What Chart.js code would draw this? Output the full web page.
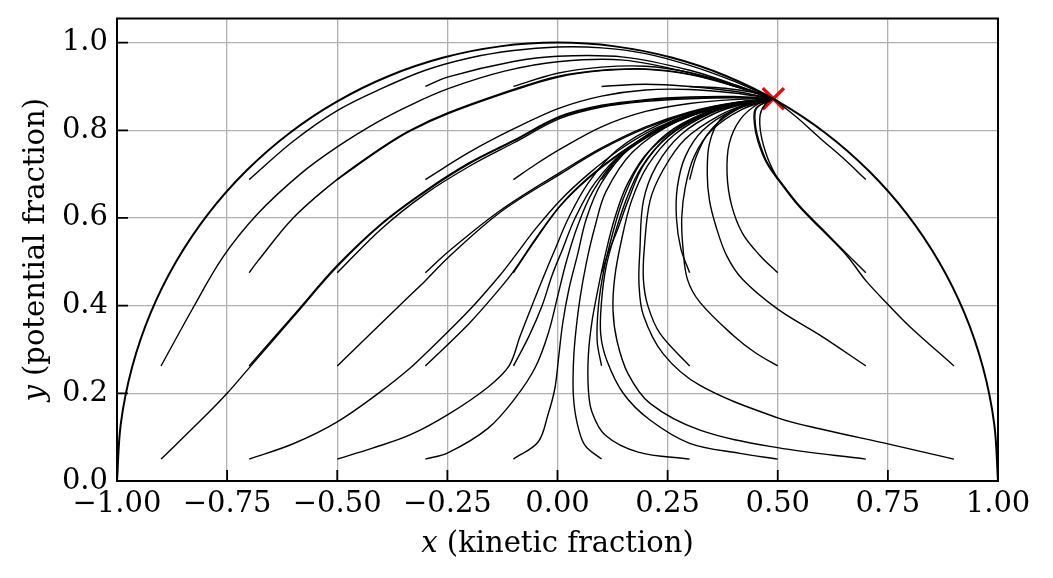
<!DOCTYPE html>
<html>
<head>
<meta charset="utf-8">
<script src="https://cdn.jsdelivr.net/npm/chart.js@4.4.1/dist/chart.umd.min.js"></script>
<style>
  html, body { margin: 0; background: #fff; }
  #wrap { width: 1053px; height: 578px; }
</style>
</head>
<body>
<div id="wrap"><canvas id="phase"></canvas></div>
<script>
// ---- axis ticks ----
const xTicks = [-1, -0.75, -0.5, -0.25, 0, 0.25, 0.5, 0.75, 1];
const yTicks = [0, 0.2, 0.4, 0.6, 0.8, 1.0];

// ---- attractor (red x) ----
const attractor = [[0.49, 0.872]];

// ---- boundary x^2 + y^2 = 1 ----
const circle = [
  [-1, 0], [-0.9914, 0.1305], [-0.9659, 0.2588], [-0.9239, 0.3827], [-0.866, 0.5],
  [-0.7934, 0.6088], [-0.7071, 0.7071], [-0.6088, 0.7934], [-0.5, 0.866], [-0.3827, 0.9239],
  [-0.2588, 0.9659], [-0.1305, 0.9914], [0, 1], [0.1305, 0.9914], [0.2588, 0.9659],
  [0.3827, 0.9239], [0.5, 0.866], [0.6088, 0.7934], [0.7071, 0.7071], [0.7934, 0.6088],
  [0.866, 0.5], [0.9239, 0.3827], [0.9659, 0.2588], [0.9914, 0.1305], [1, 0]
];

// ---- trajectories, named by start point: m/p = sign, digit = |x0|*10, a..e = y0 row ----
// row a: y0 = 0.05
const m9a = [[-0.9,0.05],[-0.8,0.148],[-0.75,0.2],[-0.7,0.258],[-0.6,0.374],[-0.5,0.489],[-0.4,0.585],[-0.3,0.66],[-0.2,0.724],[-0.1,0.775],[0.006,0.83],[0.1,0.855],[0.2,0.868],[0.3,0.874],[0.4,0.875],[0.49,0.872]];
const m7a = [[-0.7,0.05],[-0.6,0.085],[-0.5,0.135],[-0.4,0.205],[-0.335,0.257],[-0.3,0.29],[-0.2,0.39],[-0.13,0.47],[-0.096,0.514],[-0.05,0.575],[0.006,0.64],[0.07,0.7],[0.14,0.755],[0.22,0.803],[0.31,0.84],[0.4,0.862],[0.49,0.872]];
const m5a = [[-0.5,0.05],[-0.42,0.075],[-0.335,0.105],[-0.248,0.152],[-0.158,0.214],[-0.11,0.2625],[-0.085,0.33],[-0.058,0.4],[-0.03,0.47],[-0.005,0.53],[0.025,0.6],[0.07,0.68],[0.135,0.755],[0.235,0.815],[0.35,0.853],[0.49,0.872]];
const m3a = [[-0.3,0.05],[-0.249,0.064],[-0.158,0.12],[-0.096,0.189],[-0.05,0.26],[-0.02,0.34],[0,0.42],[0.02,0.5],[0.045,0.58],[0.08,0.66],[0.14,0.74],[0.23,0.805],[0.34,0.849],[0.49,0.872]];
const m1a = [[-0.1,0.05],[-0.044,0.089],[-0.022,0.15],[-0.006,0.211],[0.003,0.286],[0.012,0.361],[0.026,0.438],[0.045,0.514],[0.066,0.6],[0.1,0.68],[0.165,0.76],[0.26,0.82],[0.37,0.855],[0.49,0.872]];
const p1a = [[0.1,0.05],[0.062,0.082],[0.044,0.135],[0.036,0.195],[0.036,0.264],[0.04,0.325],[0.051,0.416],[0.066,0.5],[0.085,0.58],[0.11,0.66],[0.17,0.75],[0.27,0.82],[0.38,0.857],[0.49,0.872]];
const p3a = [[0.3,0.05],[0.183,0.066],[0.108,0.105],[0.078,0.158],[0.07,0.21],[0.07,0.286],[0.078,0.362],[0.092,0.438],[0.108,0.514],[0.13,0.6],[0.16,0.68],[0.21,0.755],[0.3,0.822],[0.4,0.857],[0.49,0.872]];
const p5a = [[0.5,0.05],[0.414,0.063],[0.3,0.086],[0.21,0.139],[0.15,0.199],[0.112,0.275],[0.098,0.336],[0.1,0.41],[0.11,0.487],[0.13,0.563],[0.155,0.639],[0.19,0.715],[0.25,0.785],[0.34,0.838],[0.43,0.863],[0.49,0.872]];
const p7a = [[0.7,0.05],[0.5,0.076],[0.3235,0.116],[0.21,0.177],[0.16,0.245],[0.135,0.32],[0.126,0.39],[0.13,0.465],[0.145,0.548],[0.168,0.639],[0.205,0.72],[0.265,0.79],[0.35,0.84],[0.43,0.864],[0.49,0.872]];
const p9a = [[0.9,0.05],[0.7525,0.084],[0.6,0.118],[0.5,0.144],[0.3235,0.218],[0.24,0.29],[0.195,0.378],[0.185,0.449],[0.187,0.525],[0.195,0.639],[0.225,0.72],[0.28,0.79],[0.36,0.84],[0.44,0.864],[0.49,0.872]];
// row b: y0 = 0.2625
const m9b = [[-0.9,0.2625],[-0.83,0.39],[-0.76,0.51],[-0.68,0.61],[-0.584,0.7],[-0.5,0.762],[-0.41,0.818],[-0.335,0.857],[-0.248,0.895],[-0.12,0.935],[0.006,0.957],[0.15,0.96],[0.3,0.931],[0.42,0.895],[0.49,0.872]];
const m7b = [[-0.7,0.2625],[-0.6,0.377],[-0.5,0.492],[-0.4,0.587],[-0.3,0.662],[-0.2,0.726],[-0.1,0.777],[0.006,0.832],[0.1,0.857],[0.2,0.87],[0.3,0.876],[0.4,0.877],[0.49,0.872]];
const m5b = [[-0.5,0.2625],[-0.41,0.35],[-0.335,0.423],[-0.3,0.457],[-0.248,0.51],[-0.13,0.613],[0.006,0.7],[0.1,0.757],[0.2,0.805],[0.3,0.84],[0.4,0.862],[0.49,0.872]];
const m3b = [[-0.3,0.2625],[-0.2,0.36],[-0.13,0.44],[-0.1,0.478],[-0.05,0.552],[0.006,0.628],[0.07,0.692],[0.14,0.747],[0.22,0.797],[0.31,0.836],[0.4,0.86],[0.49,0.872]];
const m1b = [[-0.1,0.2625],[-0.065,0.33],[-0.035,0.4],[-0.012,0.47],[0.012,0.53],[0.04,0.6],[0.085,0.68],[0.155,0.755],[0.255,0.815],[0.37,0.853],[0.49,0.872]];
const p1b = [[0.1,0.2625],[0.09,0.32],[0.093,0.4],[0.105,0.48],[0.124,0.56],[0.148,0.64],[0.185,0.72],[0.245,0.79],[0.335,0.84],[0.425,0.864],[0.49,0.872]];
const p3b = [[0.3,0.2625],[0.233,0.336],[0.205,0.4],[0.195,0.46],[0.197,0.53],[0.21,0.639],[0.24,0.71],[0.29,0.78],[0.37,0.835],[0.44,0.863],[0.49,0.872]];
const p5b = [[0.5,0.2625],[0.45,0.292],[0.399,0.332],[0.3235,0.4075],[0.295,0.46],[0.285,0.53],[0.282,0.6],[0.29,0.67],[0.31,0.74],[0.35,0.8],[0.42,0.848],[0.49,0.872]];
const p7b = [[0.7,0.2625],[0.6,0.33],[0.5,0.392],[0.42,0.46],[0.384,0.514],[0.36,0.58],[0.345,0.64],[0.34,0.7],[0.345,0.77],[0.37,0.825],[0.43,0.86],[0.49,0.872]];
const p9b = [[0.9,0.2625],[0.8,0.352],[0.753,0.4],[0.7,0.457],[0.657,0.514],[0.6,0.573],[0.551,0.623],[0.51,0.675],[0.475,0.725],[0.455,0.775],[0.447,0.815],[0.45,0.85],[0.49,0.872]];
// row c: y0 = 0.475
const m7c = [[-0.7,0.475],[-0.68,0.502],[-0.6,0.6],[-0.5,0.688],[-0.4,0.76],[-0.335,0.8],[-0.248,0.84],[-0.1,0.893],[0,0.923],[0.1,0.937],[0.2,0.94],[0.3,0.928],[0.4,0.902],[0.49,0.872]];
const m5c = [[-0.5,0.475],[-0.4,0.575],[-0.3,0.655],[-0.2,0.718],[-0.1,0.771],[0.006,0.827],[0.1,0.853],[0.2,0.866],[0.3,0.872],[0.4,0.874],[0.49,0.872]];
const m3c = [[-0.3,0.475],[-0.248,0.523],[-0.13,0.617],[0.006,0.704],[0.1,0.76],[0.2,0.808],[0.3,0.842],[0.4,0.863],[0.49,0.872]];
const m1c = [[-0.1,0.475],[-0.05,0.55],[0.006,0.627],[0.07,0.69],[0.14,0.745],[0.22,0.795],[0.31,0.835],[0.4,0.86],[0.49,0.872]];
const p1c = [[0.1,0.475],[0.115,0.52],[0.135,0.57],[0.16,0.639],[0.195,0.72],[0.255,0.79],[0.345,0.84],[0.43,0.864],[0.49,0.872]];
const p3c = [[0.3,0.475],[0.28,0.53],[0.27,0.6],[0.272,0.67],[0.29,0.74],[0.33,0.8],[0.4,0.846],[0.49,0.872]];
const p5c = [[0.5,0.475],[0.46,0.514],[0.42,0.565],[0.395,0.63],[0.385,0.7],[0.39,0.77],[0.415,0.825],[0.455,0.86],[0.49,0.872]];
const p7c = [[0.7,0.475],[0.66,0.515],[0.6,0.576],[0.551,0.626],[0.51,0.678],[0.476,0.727],[0.457,0.777],[0.449,0.816],[0.452,0.85],[0.49,0.872]];
// row d: y0 = 0.6875
const m7d = [[-0.7,0.6875],[-0.6,0.775],[-0.5,0.845],[-0.4,0.895],[-0.3,0.937],[-0.2,0.965],[-0.1,0.982],[0,0.99],[0.1,0.988],[0.2,0.975],[0.3,0.948],[0.4,0.912],[0.49,0.872]];
const m5d = [[-0.5,0.6875],[-0.4,0.758],[-0.335,0.798],[-0.248,0.838],[-0.1,0.891],[0,0.921],[0.1,0.936],[0.2,0.939],[0.3,0.927],[0.4,0.901],[0.49,0.872]];
const m3d = [[-0.3,0.6875],[-0.2,0.75],[-0.1,0.803],[0.006,0.851],[0.1,0.878],[0.2,0.892],[0.3,0.893],[0.4,0.885],[0.49,0.872]];
const m1d = [[-0.1,0.6875],[-0.05,0.722],[0.006,0.757],[0.1,0.808],[0.2,0.843],[0.3,0.861],[0.4,0.87],[0.49,0.872]];
const p1d = [[0.1,0.6875],[0.14,0.738],[0.2,0.782],[0.27,0.82],[0.34,0.847],[0.42,0.865],[0.49,0.872]];
const p3d = [[0.3,0.6875],[0.315,0.74],[0.34,0.79],[0.38,0.83],[0.44,0.862],[0.49,0.872]];
const p5d = [[0.5,0.6875],[0.477,0.737],[0.462,0.79],[0.46,0.835],[0.472,0.86],[0.49,0.872]];
const p7d = [[0.7,0.6875],[0.65,0.735],[0.596,0.782],[0.545,0.828],[0.49,0.872]];
// row e: y0 = 0.9
const m3e = [[-0.3,0.9],[-0.248,0.922],[-0.1,0.957],[0,0.969],[0.15,0.967],[0.3,0.937],[0.42,0.898],[0.49,0.872]];
const m1e = [[-0.1,0.9],[0,0.93],[0.1,0.944],[0.2,0.946],[0.3,0.932],[0.4,0.904],[0.49,0.872]];
const p1e = [[0.1,0.9],[0.2,0.905],[0.3,0.9],[0.4,0.889],[0.49,0.872]];
const p3e = [[0.3,0.9],[0.38,0.896],[0.44,0.887],[0.49,0.872]];

const trajectories = [
  m9a, m7a, m5a, m3a, m1a, p1a, p3a, p5a, p7a, p9a,
  m9b, m7b, m5b, m3b, m1b, p1b, p3b, p5b, p7b, p9b,
  m7c, m5c, m3c, m1c, p1c, p3c, p5c, p7c,
  m7d, m5d, m3d, m1d, p1d, p3d, p5d, p7d,
  m3e, m1e, p1e, p3e
];

const FONT = 'DejaVu Serif';
const TICK_LEN = 11;
const toXY = pts => pts.map(([x, y]) => ({ x, y }));

const lineSet = (pts, width) => ({
  data: toXY(pts), showLine: true, borderColor: '#000', borderWidth: width,
  pointRadius: 0, fill: false, tension: 0.35
});

const datasets = [lineSet(circle, 2)]
  .concat(trajectories.map(t => lineSet(t, 1.4)))
  .concat([{
    data: toXY(attractor), showLine: false, pointStyle: 'crossRot',
    pointRadius: 15, pointBorderWidth: 3.5, borderColor: '#ff0000', pointBorderColor: '#ff0000'
  }]);

// frame, inward ticks and axis titles (matplotlib look)
const framePlugin = {
  id: 'frame',
  afterDraw(chart) {
    const { ctx, chartArea: a, scales: { x, y } } = chart;
    ctx.save();
    ctx.strokeStyle = '#000';
    ctx.lineWidth = 1.8;
    ctx.beginPath();
    xTicks.forEach(v => { const px = x.getPixelForValue(v); ctx.moveTo(px, a.bottom); ctx.lineTo(px, a.bottom - TICK_LEN); });
    yTicks.forEach(v => { const py = y.getPixelForValue(v); ctx.moveTo(a.left, py); ctx.lineTo(a.left + TICK_LEN, py); });
    ctx.stroke();
    ctx.lineWidth = 2;
    ctx.strokeRect(a.left, a.top, a.right - a.left, a.bottom - a.top);

    ctx.fillStyle = '#000';
    ctx.textBaseline = 'alphabetic';
    const drawTitle = (v, rest, cx, cy, rot) => {
      ctx.save();
      ctx.translate(cx, cy);
      ctx.rotate(rot);
      ctx.font = `italic 29px "${FONT}"`;
      const w1 = ctx.measureText(v).width;
      ctx.font = `29px "${FONT}"`;
      const w2 = ctx.measureText(rest).width;
      const sx = -(w1 + w2) / 2;
      ctx.font = `italic 29px "${FONT}"`;
      ctx.fillText(v, sx, 0);
      ctx.font = `29px "${FONT}"`;
      ctx.fillText(rest, sx + w1, 0);
      ctx.restore();
    };
    drawTitle('x', ' (kinetic fraction)', (a.left + a.right) / 2, 552, 0);
    drawTitle('y', ' (potential fraction)', 44, (a.top + a.bottom) / 2, -Math.PI / 2);
    ctx.restore();
  }
};

new Chart(document.getElementById('phase'), {
  type: 'scatter',
  data: { datasets },
  options: {
    responsive: true,
    maintainAspectRatio: false,
    devicePixelRatio: 1,
    animation: false,
    layout: { padding: { top: 17, right: 55, left: 0, bottom: 0 } },
    plugins: { legend: { display: false }, tooltip: { enabled: false } },
    scales: {
      x: {
        type: 'linear', min: -1, max: 1,
        afterFit: s => { s.height = 97; s.paddingLeft = 0; s.paddingRight = 0; },
        afterBuildTicks: s => { s.ticks = xTicks.map(v => ({ value: v })); },
        grid: { color: '#b0b0b0', lineWidth: 1.3, drawTicks: false },
        border: { display: false },
        ticks: {
          padding: 6, maxRotation: 0, autoSkip: false, color: '#000',
          font: { family: FONT, size: 29 },
          callback: v => v.toFixed(2).replace('-', '\u2212')
        }
      },
      y: {
        type: 'linear', min: 0, max: 1.055,
        afterFit: s => { s.width = 117; s.paddingTop = 0; s.paddingBottom = 0; },
        afterBuildTicks: s => { s.ticks = yTicks.map(v => ({ value: v })); },
        grid: { color: '#b0b0b0', lineWidth: 1.3, drawTicks: false },
        border: { display: false },
        ticks: {
          padding: 9, autoSkip: false, color: '#000',
          font: { family: FONT, size: 29 },
          callback: v => v.toFixed(1)
        }
      }
    }
  },
  plugins: [framePlugin]
});
</script>
</body>
</html>
